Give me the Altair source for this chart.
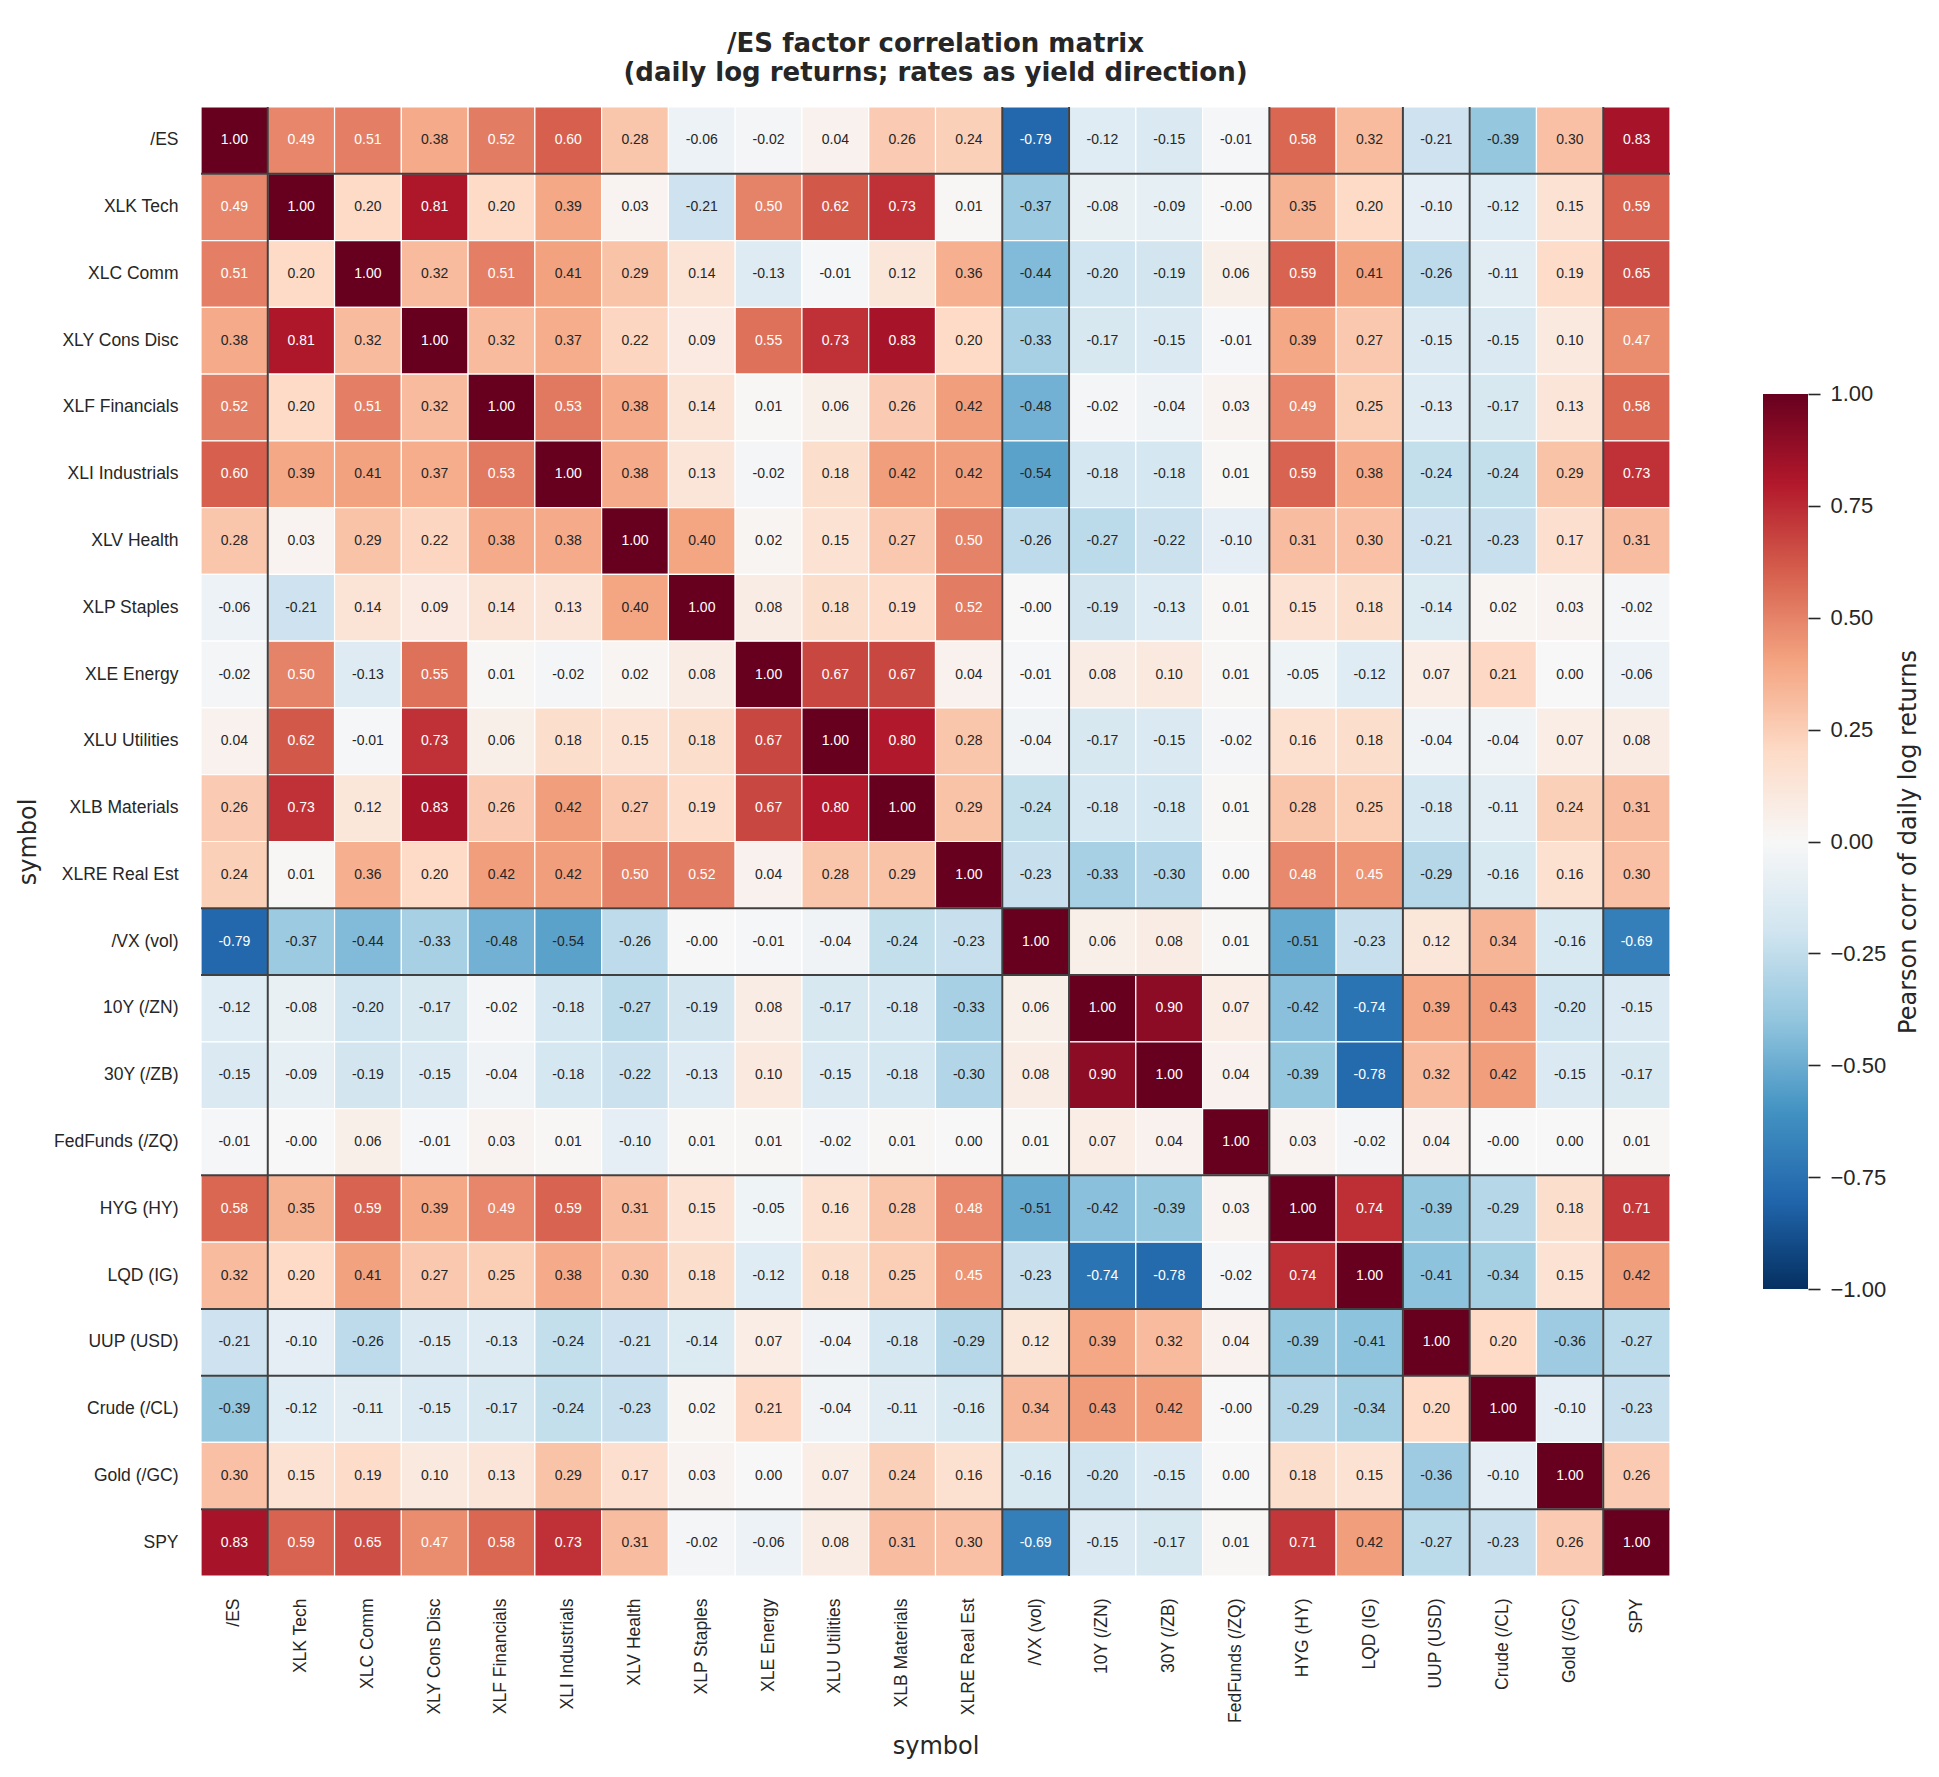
import altair as alt
import pandas as pd

# ---------------- data ----------------
labels = ["/ES", "XLK Tech", "XLC Comm", "XLY Cons Disc", "XLF Financials",
          "XLI Industrials", "XLV Health", "XLP Staples", "XLE Energy",
          "XLU Utilities", "XLB Materials", "XLRE Real Est", "/VX (vol)",
          "10Y (/ZN)", "30Y (/ZB)", "FedFunds (/ZQ)", "HYG (HY)", "LQD (IG)",
          "UUP (USD)", "Crude (/CL)", "Gold (/GC)", "SPY"]

corr = [
    [1.00, 0.49, 0.51, 0.38, 0.52, 0.60, 0.28, -0.06, -0.02, 0.04, 0.26, 0.24, -0.79, -0.12, -0.15, -0.01, 0.58, 0.32, -0.21, -0.39, 0.30, 0.83],
    [0.49, 1.00, 0.20, 0.81, 0.20, 0.39, 0.03, -0.21, 0.50, 0.62, 0.73, 0.01, -0.37, -0.08, -0.09, -0.0, 0.35, 0.20, -0.10, -0.12, 0.15, 0.59],
    [0.51, 0.20, 1.00, 0.32, 0.51, 0.41, 0.29, 0.14, -0.13, -0.01, 0.12, 0.36, -0.44, -0.20, -0.19, 0.06, 0.59, 0.41, -0.26, -0.11, 0.19, 0.65],
    [0.38, 0.81, 0.32, 1.00, 0.32, 0.37, 0.22, 0.09, 0.55, 0.73, 0.83, 0.20, -0.33, -0.17, -0.15, -0.01, 0.39, 0.27, -0.15, -0.15, 0.10, 0.47],
    [0.52, 0.20, 0.51, 0.32, 1.00, 0.53, 0.38, 0.14, 0.01, 0.06, 0.26, 0.42, -0.48, -0.02, -0.04, 0.03, 0.49, 0.25, -0.13, -0.17, 0.13, 0.58],
    [0.60, 0.39, 0.41, 0.37, 0.53, 1.00, 0.38, 0.13, -0.02, 0.18, 0.42, 0.42, -0.54, -0.18, -0.18, 0.01, 0.59, 0.38, -0.24, -0.24, 0.29, 0.73],
    [0.28, 0.03, 0.29, 0.22, 0.38, 0.38, 1.00, 0.40, 0.02, 0.15, 0.27, 0.50, -0.26, -0.27, -0.22, -0.10, 0.31, 0.30, -0.21, -0.23, 0.17, 0.31],
    [-0.06, -0.21, 0.14, 0.09, 0.14, 0.13, 0.40, 1.00, 0.08, 0.18, 0.19, 0.52, -0.0, -0.19, -0.13, 0.01, 0.15, 0.18, -0.14, 0.02, 0.03, -0.02],
    [-0.02, 0.50, -0.13, 0.55, 0.01, -0.02, 0.02, 0.08, 1.00, 0.67, 0.67, 0.04, -0.01, 0.08, 0.10, 0.01, -0.05, -0.12, 0.07, 0.21, 0.00, -0.06],
    [0.04, 0.62, -0.01, 0.73, 0.06, 0.18, 0.15, 0.18, 0.67, 1.00, 0.80, 0.28, -0.04, -0.17, -0.15, -0.02, 0.16, 0.18, -0.04, -0.04, 0.07, 0.08],
    [0.26, 0.73, 0.12, 0.83, 0.26, 0.42, 0.27, 0.19, 0.67, 0.80, 1.00, 0.29, -0.24, -0.18, -0.18, 0.01, 0.28, 0.25, -0.18, -0.11, 0.24, 0.31],
    [0.24, 0.01, 0.36, 0.20, 0.42, 0.42, 0.50, 0.52, 0.04, 0.28, 0.29, 1.00, -0.23, -0.33, -0.30, 0.00, 0.48, 0.45, -0.29, -0.16, 0.16, 0.30],
    [-0.79, -0.37, -0.44, -0.33, -0.48, -0.54, -0.26, -0.0, -0.01, -0.04, -0.24, -0.23, 1.00, 0.06, 0.08, 0.01, -0.51, -0.23, 0.12, 0.34, -0.16, -0.69],
    [-0.12, -0.08, -0.20, -0.17, -0.02, -0.18, -0.27, -0.19, 0.08, -0.17, -0.18, -0.33, 0.06, 1.00, 0.90, 0.07, -0.42, -0.74, 0.39, 0.43, -0.20, -0.15],
    [-0.15, -0.09, -0.19, -0.15, -0.04, -0.18, -0.22, -0.13, 0.10, -0.15, -0.18, -0.30, 0.08, 0.90, 1.00, 0.04, -0.39, -0.78, 0.32, 0.42, -0.15, -0.17],
    [-0.01, -0.0, 0.06, -0.01, 0.03, 0.01, -0.10, 0.01, 0.01, -0.02, 0.01, 0.00, 0.01, 0.07, 0.04, 1.00, 0.03, -0.02, 0.04, -0.0, 0.00, 0.01],
    [0.58, 0.35, 0.59, 0.39, 0.49, 0.59, 0.31, 0.15, -0.05, 0.16, 0.28, 0.48, -0.51, -0.42, -0.39, 0.03, 1.00, 0.74, -0.39, -0.29, 0.18, 0.71],
    [0.32, 0.20, 0.41, 0.27, 0.25, 0.38, 0.30, 0.18, -0.12, 0.18, 0.25, 0.45, -0.23, -0.74, -0.78, -0.02, 0.74, 1.00, -0.41, -0.34, 0.15, 0.42],
    [-0.21, -0.10, -0.26, -0.15, -0.13, -0.24, -0.21, -0.14, 0.07, -0.04, -0.18, -0.29, 0.12, 0.39, 0.32, 0.04, -0.39, -0.41, 1.00, 0.20, -0.36, -0.27],
    [-0.39, -0.12, -0.11, -0.15, -0.17, -0.24, -0.23, 0.02, 0.21, -0.04, -0.11, -0.16, 0.34, 0.43, 0.42, -0.0, -0.29, -0.34, 0.20, 1.00, -0.10, -0.23],
    [0.30, 0.15, 0.19, 0.10, 0.13, 0.29, 0.17, 0.03, 0.00, 0.07, 0.24, 0.16, -0.16, -0.20, -0.15, 0.00, 0.18, 0.15, -0.36, -0.10, 1.00, 0.26],
    [0.83, 0.59, 0.65, 0.47, 0.58, 0.73, 0.31, -0.02, -0.06, 0.08, 0.31, 0.30, -0.69, -0.15, -0.17, 0.01, 0.71, 0.42, -0.27, -0.23, 0.26, 1.00],
]

# first member of each factor group (separator lines sit before these)
group_starts = ["XLK Tech", "/VX (vol)", "10Y (/ZN)", "HYG (HY)", "UUP (USD)", "Crude (/CL)", "SPY"]

# RdBu_r colour stops
cmap_colors = ["#053061", "#2166ac", "#4393c3", "#92c5de", "#d1e5f0", "#f7f7f7",
               "#fddbc7", "#f4a582", "#d6604d", "#b2182b", "#67001f"]
cmap_stops = [-1.0, -0.8, -0.6, -0.4, -0.2, 0.0, 0.2, 0.4, 0.6, 0.8, 1.0]
cbar_ticks = [-1.0, -0.75, -0.5, -0.25, 0.0, 0.25, 0.5, 0.75, 1.0]


def text_color(v):
    # light annotation text on the darkest cells
    return "#ffffff" if (v > 0.44 or v < -0.6) else "#262626"


records = []
for i, r in enumerate(labels):
    for j, c in enumerate(labels):
        v = corr[i][j]
        records.append({"row": r, "col": c, "v": v,
                        "txt": f"{v:.2f}", "tc": text_color(v)})
df = pd.DataFrame(records)

W = 1469
H = 1469
band = alt.Scale(domain=labels, paddingInner=0, paddingOuter=0)

x_axis = alt.Axis(labelAngle=270, labelPadding=22, title="symbol",
                  titleY=170, titleBaseline="middle")
y_axis = alt.Axis(labelPadding=23, title="symbol", titleX=-173,
                  titleY=H / 2, titleBaseline="middle", titleAlign="center")

X = alt.X("col:N", sort=labels, scale=band, axis=x_axis)
Y = alt.Y("row:N", sort=labels, scale=band, axis=y_axis)

rect = alt.Chart(df).mark_rect(stroke="white", strokeWidth=1.2).encode(
    x=X, y=Y,
    color=alt.Color("v:Q", scale=alt.Scale(domain=cmap_stops, range=cmap_colors,
                                           interpolate="rgb"), legend=None),
)

sep = pd.DataFrame({"col": group_starts, "row": group_starts})
vrules = alt.Chart(sep).mark_rule(color="#404040", strokeWidth=2).encode(
    x=alt.X("col:N", sort=labels, scale=band, axis=x_axis, bandPosition=0)
)
hrules = alt.Chart(sep).mark_rule(color="#404040", strokeWidth=2).encode(
    y=alt.Y("row:N", sort=labels, scale=band, axis=y_axis, bandPosition=0)
)

text = alt.Chart(df).mark_text(font="Liberation Sans", fontSize=14).encode(
    x=X, y=Y, text="txt:N", color=alt.Color("tc:N", scale=None)
)

heat = alt.layer(rect, vrules, hrules, text).resolve_scale(color="independent")

# colour bar
gradient = alt.LinearGradient(
    gradient="linear",
    stops=[alt.GradientStop(color=c, offset=(s + 1) / 2) for c, s in zip(cmap_colors, cmap_stops)],
    x1=0, x2=0, y1=1, y2=0,
)
cb_df = pd.DataFrame({"lo": [-1.0], "hi": [1.0]})
cbar = alt.Chart(cb_df).mark_rect(color=gradient).encode(
    x=alt.value(1562), x2=alt.value(1607),
    y=alt.Y("lo:Q",
            scale=alt.Scale(domain=[-1.6413, 1.6413], nice=False, zero=False),
            axis=alt.Axis(orient="right", offset=138, values=cbar_ticks, format=".2f",
                          domain=False, ticks=True, tickSize=12, tickWidth=1.6,
                          tickColor="#262626", grid=False, labelFontSize=22,
                          labelPadding=10, labelFlush=False, labelOverlap=False,
                          title="Pearson corr of daily log returns", titleAngle=270,
                          titleX=100, titleY=H / 2, titleBaseline="middle",
                          titleAlign="center")),
    y2="hi:Q",
)

chart = (
    alt.layer(heat, cbar)
    .resolve_scale(y="independent")
    .properties(
        width=W, height=H,
        autosize=alt.AutoSizeParams(type="none"),
        padding={"left": 201, "top": 107, "right": 269, "bottom": 200},
        title=alt.TitleParams(
            text=["/ES factor correlation matrix",
                  "(daily log returns; rates as yield direction)"],
            font="DejaVu Sans", fontSize=26, fontWeight="bold", color="#262626",
            anchor="middle", frame="group", lineHeight=29, offset=20,
        ),
    )
    .configure_view(stroke=None)
    .configure_axis(
        domain=False, ticks=False, grid=False,
        labelFont="Liberation Sans", labelFontSize=17.5, labelColor="#262626",
        labelLimit=400,
        titleFont="DejaVu Sans", titleFontSize=24, titleFontWeight="normal",
        titleColor="#262626",
    )
)

chart.save("out.html", embed_options={"renderer": "svg", "actions": False})
